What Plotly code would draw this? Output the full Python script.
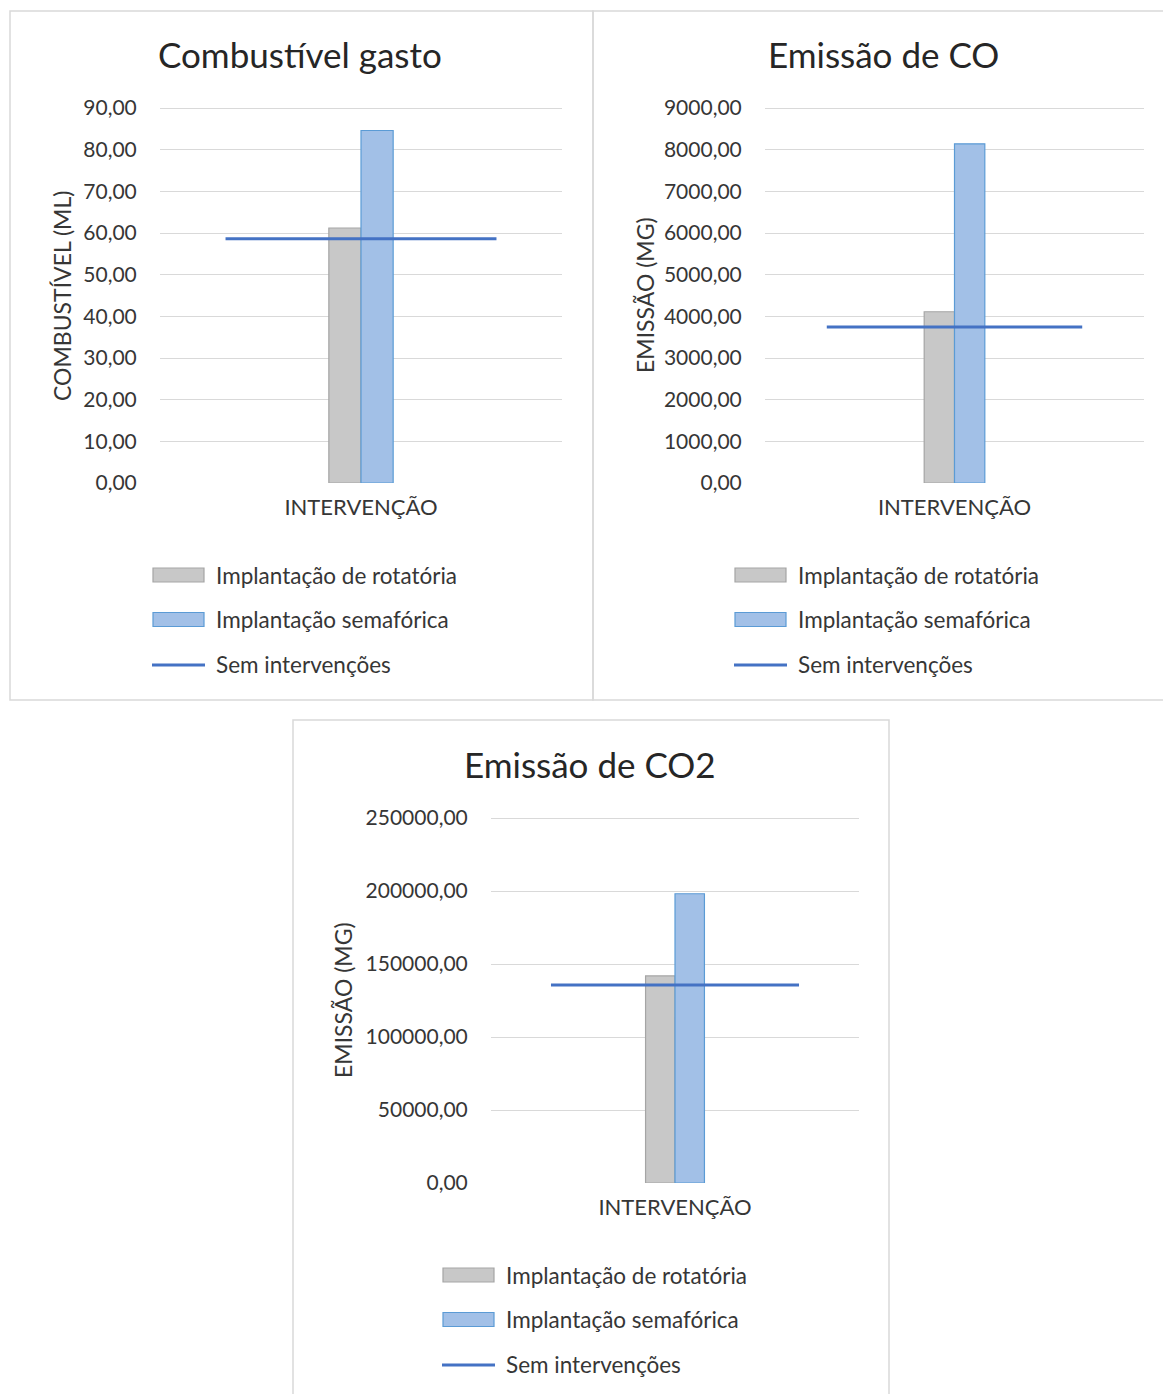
import plotly.graph_objects as go

# ---- data -------------------------------------------------------------
categories = ["INTERVENÇÃO"]
chart_titles = ["Combustível gasto", "Emissão de CO", "Emissão de CO2"]
y_titles = ["COMBUSTÍVEL (ML)", "EMISSÃO (MG)", "EMISSÃO (MG)"]
series_names = ["Implantação de rotatória", "Implantação semafórica", "Sem intervenções"]

rotatoria = [61.2, 4110.0, 141800.0]
semaforica = [84.6, 8140.0, 198100.0]
sem_intervencoes = [58.6, 3745.0, 135600.0]

y_max = [90, 9000, 250000]
y_step = [10, 1000, 50000]

# ---- page geometry (pixels) -------------------------------------------
W, H = 1163, 1394
FONT = "Lato"
TXT = "#363636"
GRID = "#d9d9d9"
GRAY_FILL, GRAY_EDGE = "#c8c8c8", "#a5a5a5"
BLUE_FILL, BLUE_EDGE = "#a2c0e7", "#5b9bd5"
LINE_CLR = "#4472c4"

BAR_W = 0.08          # width of each bar in category units
LINE_HALF = 0.337     # half span of the reference line across the category
TOP_PAD = 1.012       # keeps the top gridline inside the plot area

# plot areas: (left, right, top, bottom)
plots = [(160, 562, 108, 483), (765, 1144, 108, 483), (491, 859, 818, 1183)]
# chart frames: (left, top, right, bottom)
frames = [(10, 11, 593, 700), (593, 11, 1165, 700), (293, 720, 889, 1397)]
title_pos = [(300, 54), (883, 54), (590, 764)]
ytitle_pos = [(62, 296), (645, 295), (343, 1000)]
# legend anchor: (swatch left, first row y)
legend_pos = [(153, 575), (735, 575), (443, 1275)]
LEG_DY = 44.5


def px(x):
    return x / W


def py(y):
    return 1 - y / H


fig = go.Figure()
shapes, annotations = [], []

for i in range(3):
    n = "" if i == 0 else str(i + 1)
    xa, ya = "x" + n, "y" + n

    fig.add_trace(go.Bar(
        x=[0], y=[rotatoria[i]], width=[BAR_W], offset=-BAR_W,
        marker=dict(color=GRAY_FILL, line=dict(color=GRAY_EDGE, width=1.2)),
        name=series_names[0], showlegend=False, xaxis=xa, yaxis=ya,
    ))
    fig.add_trace(go.Bar(
        x=[0], y=[semaforica[i]], width=[BAR_W], offset=0,
        marker=dict(color=BLUE_FILL, line=dict(color=BLUE_EDGE, width=1.2)),
        name=series_names[1], showlegend=False, xaxis=xa, yaxis=ya,
    ))
    fig.add_trace(go.Scatter(
        x=[-LINE_HALF, LINE_HALF], y=[sem_intervencoes[i]] * 2, mode="lines",
        line=dict(color=LINE_CLR, width=3),
        name=series_names[2], showlegend=False, xaxis=xa, yaxis=ya,
    ))

    l, r, t, b = plots[i]
    top_px = b - (b - t) * TOP_PAD
    fig.layout["xaxis" + n] = dict(
        domain=[px(l), px(r)], range=[-0.5, 0.5], anchor=ya,
        tickvals=[0], ticktext=categories, showgrid=False, zeroline=False,
        showline=False, ticks="outside", ticklen=5, tickcolor="rgba(0,0,0,0)",
        tickfont=dict(family=FONT, size=22, color=TXT), fixedrange=True,
    )
    fig.layout["yaxis" + n] = dict(
        domain=[py(b), py(top_px)], range=[0, y_max[i] * TOP_PAD], dtick=y_step[i],
        tick0=0, anchor=xa, tickformat=".2f", showgrid=True, gridcolor=GRID,
        gridwidth=1.3, zeroline=False, showline=False, ticks="outside", ticklen=18,
        tickcolor="rgba(0,0,0,0)", tickfont=dict(family=FONT, size=21, color=TXT),
        fixedrange=True,
    )

    # chart frame
    fl, ft, fr, fb = frames[i]
    shapes.append(dict(type="rect", xref="paper", yref="paper",
                       x0=px(fl), x1=px(fr), y0=py(fb), y1=py(ft),
                       line=dict(color=GRID, width=1.5), layer="below"))

    # chart title
    tx, ty = title_pos[i]
    annotations.append(dict(text=chart_titles[i], x=px(tx), y=py(ty), xref="paper",
                            yref="paper", showarrow=False, xanchor="center",
                            yanchor="middle",
                            font=dict(family=FONT, size=35, color="#262626")))
    # y-axis title
    ax, ay = ytitle_pos[i]
    annotations.append(dict(text=y_titles[i], x=px(ax), y=py(ay), xref="paper",
                            yref="paper", showarrow=False, textangle=-90,
                            xanchor="center", yanchor="middle",
                            font=dict(family=FONT, size=23, color=TXT)))

    # legend: swatches and labels
    lx, ly = legend_pos[i]
    sw = 51
    for k in range(3):
        yy = ly + k * LEG_DY
        if k < 2:
            fill, edge = (GRAY_FILL, GRAY_EDGE) if k == 0 else (BLUE_FILL, BLUE_EDGE)
            shapes.append(dict(type="rect", xref="paper", yref="paper",
                               x0=px(lx), x1=px(lx + sw), y0=py(yy + 7), y1=py(yy - 7),
                               fillcolor=fill, line=dict(color=edge, width=1.2)))
        else:
            shapes.append(dict(type="line", xref="paper", yref="paper",
                               x0=px(lx - 1), x1=px(lx + sw + 1), y0=py(yy + 1), y1=py(yy + 1),
                               line=dict(color=LINE_CLR, width=3)))
        annotations.append(dict(text=series_names[k], x=px(lx + 61), y=py(yy),
                                xref="paper", yref="paper", showarrow=False,
                                xanchor="left", yanchor="middle",
                                font=dict(family=FONT, size=22.5, color=TXT)))

fig.update_layout(
    width=W, height=H, margin=dict(l=0, r=0, t=0, b=0, autoexpand=False),
    paper_bgcolor="white", plot_bgcolor="rgba(0,0,0,0)",
    separators=",.", showlegend=False, shapes=shapes, annotations=annotations,
    font=dict(family=FONT, color=TXT),
)

fig.write_html("out.html")
